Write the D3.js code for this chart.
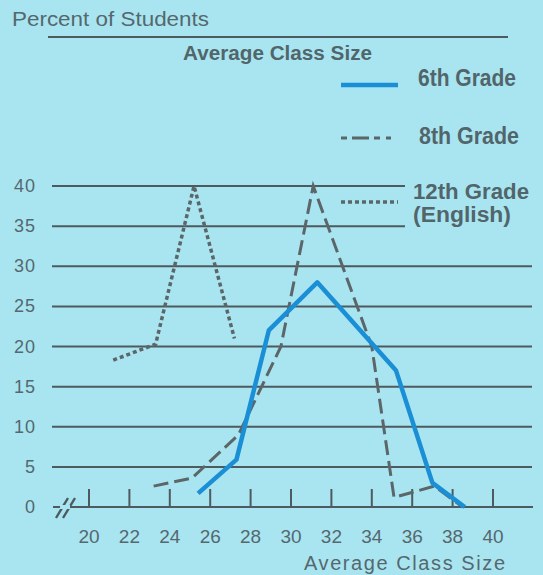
<!DOCTYPE html>
<html>
<head>
<meta charset="utf-8">
<script src="https://cdn.jsdelivr.net/npm/d3@7"></script>
<style>
  html, body { margin: 0; padding: 0; background: #a9e5f1; }
  svg { display: block; }
  .lbl { font-family: "Liberation Sans", Arial, sans-serif; fill: #55686d; }
  .cond { font-family: "Liberation Sans", Arial, sans-serif; font-weight: 700; fill: #51656a; }
</style>
</head>
<body>
<div id="viz"></div>
<script>
//Datos
const yTicks = [0, 5, 10, 15, 20, 25, 30, 35, 40];
const xTicks = [20, 22, 24, 26, 28, 30, 32, 34, 36, 38, 40];

const grade6X = [25.4, 27.3, 28.9, 31.3, 35.2, 37.0, 38.6];
const grade6Y = [1.7, 5.9, 22, 28, 17, 3, 0];

const grade8X = [23.2, 25.1, 27.4, 29.5, 31.1, 34.0, 35.1, 37.1, 38.5];
const grade8Y = [2.6, 3.6, 9, 20, 40, 20, 1.2, 2.6, 0];

const grade12X = [21.2, 23.3, 25.2, 27.2];
const grade12Y = [18.3, 20.3, 40, 21];

const seriesNames = ['6th Grade', '8th Grade', '12th Grade'];

//Colores
const COLOR_BG = '#a9e5f1',
COLOR_GRID = '#4d5a5e',
COLOR_BLUE = '#1b8fd6',
COLOR_DASH = '#5b6669';

const width = 543, height = 575;

const svg = d3.select('#viz')
    .append('svg')
    .attr('width', width)
    .attr('height', height);

svg.append('rect').attr('width', width).attr('height', height).attr('fill', COLOR_BG);

let x = d3.scaleLinear().domain([20, 40]).range([89, 493]);
let y = d3.scaleLinear().domain([0, 40]).range([507, 186]);

//Cabecera
svg.append('text').attr('class', 'lbl')
    .attr('x', 12).attr('y', 26)
    .attr('font-size', 20)
    .attr('textLength', 197).attr('lengthAdjust', 'spacingAndGlyphs')
    .text('Percent of Students');

svg.append('line')
    .attr('x1', 48).attr('x2', 508).attr('y1', 37).attr('y2', 37)
    .attr('stroke', COLOR_GRID).attr('stroke-width', 2);

svg.append('text').attr('class', 'cond')
    .attr('x', 183).attr('y', 60)
    .attr('font-size', 20)
    .attr('textLength', 189).attr('lengthAdjust', 'spacingAndGlyphs')
    .text('Average Class Size');

//Rejilla
svg.append('g')
    .selectAll('line')
    .data(yTicks.filter(d => d > 0))
    .enter()
    .append('line')
    .attr('x1', 52)
    .attr('x2', d => d >= 35 ? 405 : 532)
    .attr('y1', d => y(d)).attr('y2', d => y(d))
    .attr('stroke', COLOR_GRID).attr('stroke-width', 2);

//Eje Y
svg.append('g')
    .selectAll('text')
    .data(yTicks)
    .enter()
    .append('text').attr('class', 'lbl')
    .attr('x', 36).attr('y', d => y(d) + 6)
    .attr('text-anchor', 'end')
    .attr('font-size', 18)
    .attr('letter-spacing', 1)
    .text(d => d);

//Eje X
svg.append('line')
    .attr('x1', 53).attr('x2', 533).attr('y1', y(0)).attr('y2', y(0))
    .attr('stroke', COLOR_GRID).attr('stroke-width', 2);

svg.append('g')
    .selectAll('line')
    .data(xTicks)
    .enter()
    .append('line')
    .attr('x1', d => x(d)).attr('x2', d => x(d))
    .attr('y1', y(0)).attr('y2', y(0) - 18)
    .attr('stroke', COLOR_GRID).attr('stroke-width', 2);

svg.append('g')
    .selectAll('text')
    .data(xTicks)
    .enter()
    .append('text').attr('class', 'lbl')
    .attr('x', d => x(d)).attr('y', 543)
    .attr('text-anchor', 'middle')
    .attr('font-size', 19)
    .text(d => d);

//Corte del eje
const brk = svg.append('g').attr('stroke', COLOR_GRID).attr('stroke-width', 2.4);
brk.append('line').attr('x1', 56).attr('y1', 518).attr('x2', 68).attr('y2', 498);
brk.append('line').attr('x1', 63).attr('y1', 518).attr('x2', 75).attr('y2', 498);
brk.append('rect').attr('x', 60).attr('y', 505).attr('width', 10).attr('height', 4).attr('fill', COLOR_BG).attr('stroke', 'none');

svg.append('text').attr('class', 'lbl')
    .attr('x', 304).attr('y', 570)
    .attr('font-size', 20)
    .attr('textLength', 201).attr('lengthAdjust', 'spacing')
    .text('Average Class Size');

//Líneas
let line = d3.line()
    .x(d => x(d[0]))
    .y(d => y(d[1]));

const g12 = grade12X.map((v, i) => [v, grade12Y[i]]);
const g8 = grade8X.map((v, i) => [v, grade8Y[i]]);
const g6 = grade6X.map((v, i) => [v, grade6Y[i]]);

svg.append('path').datum(g12)
    .attr('d', line)
    .attr('fill', 'none')
    .attr('stroke', COLOR_DASH).attr('stroke-width', 3.5)
    .attr('stroke-dasharray', '4,3');

svg.append('path').datum(g8)
    .attr('d', line)
    .attr('fill', 'none')
    .attr('stroke', COLOR_DASH).attr('stroke-width', 3)
    .attr('stroke-dasharray', '15,6');

svg.append('path').datum(g6)
    .attr('d', line)
    .attr('fill', 'none')
    .attr('stroke', COLOR_BLUE).attr('stroke-width', 4.5)
    .attr('stroke-linejoin', 'round');

//Leyenda
const legendY = [85, 138, 202];
const legendDash = [null, '6,5,17,5,6', '4,3'];
const legendColor = [COLOR_BLUE, COLOR_DASH, COLOR_DASH];
const legendW = [4.5, 3, 3.5];

seriesNames.forEach(function(name, i) {
    svg.append('line')
        .attr('x1', 341).attr('x2', 398)
        .attr('y1', legendY[i]).attr('y2', legendY[i])
        .attr('stroke', legendColor[i]).attr('stroke-width', legendW[i])
        .attr('stroke-dasharray', legendDash[i]);
});

svg.append('text').attr('class', 'cond')
    .attr('x', 418).attr('y', 86).attr('font-size', 24)
    .attr('textLength', 98).attr('lengthAdjust', 'spacingAndGlyphs')
    .text(seriesNames[0]);
svg.append('text').attr('class', 'cond')
    .attr('x', 419).attr('y', 144).attr('font-size', 24)
    .attr('textLength', 100).attr('lengthAdjust', 'spacingAndGlyphs')
    .text(seriesNames[1]);
svg.append('text').attr('class', 'cond')
    .attr('x', 413).attr('y', 199).attr('font-size', 22)
    .attr('textLength', 116).attr('lengthAdjust', 'spacingAndGlyphs')
    .text(seriesNames[2]);
svg.append('text').attr('class', 'cond')
    .attr('x', 413).attr('y', 222).attr('font-size', 22)
    .attr('textLength', 98).attr('lengthAdjust', 'spacingAndGlyphs')
    .text('(English)');
</script>
</body>
</html>
